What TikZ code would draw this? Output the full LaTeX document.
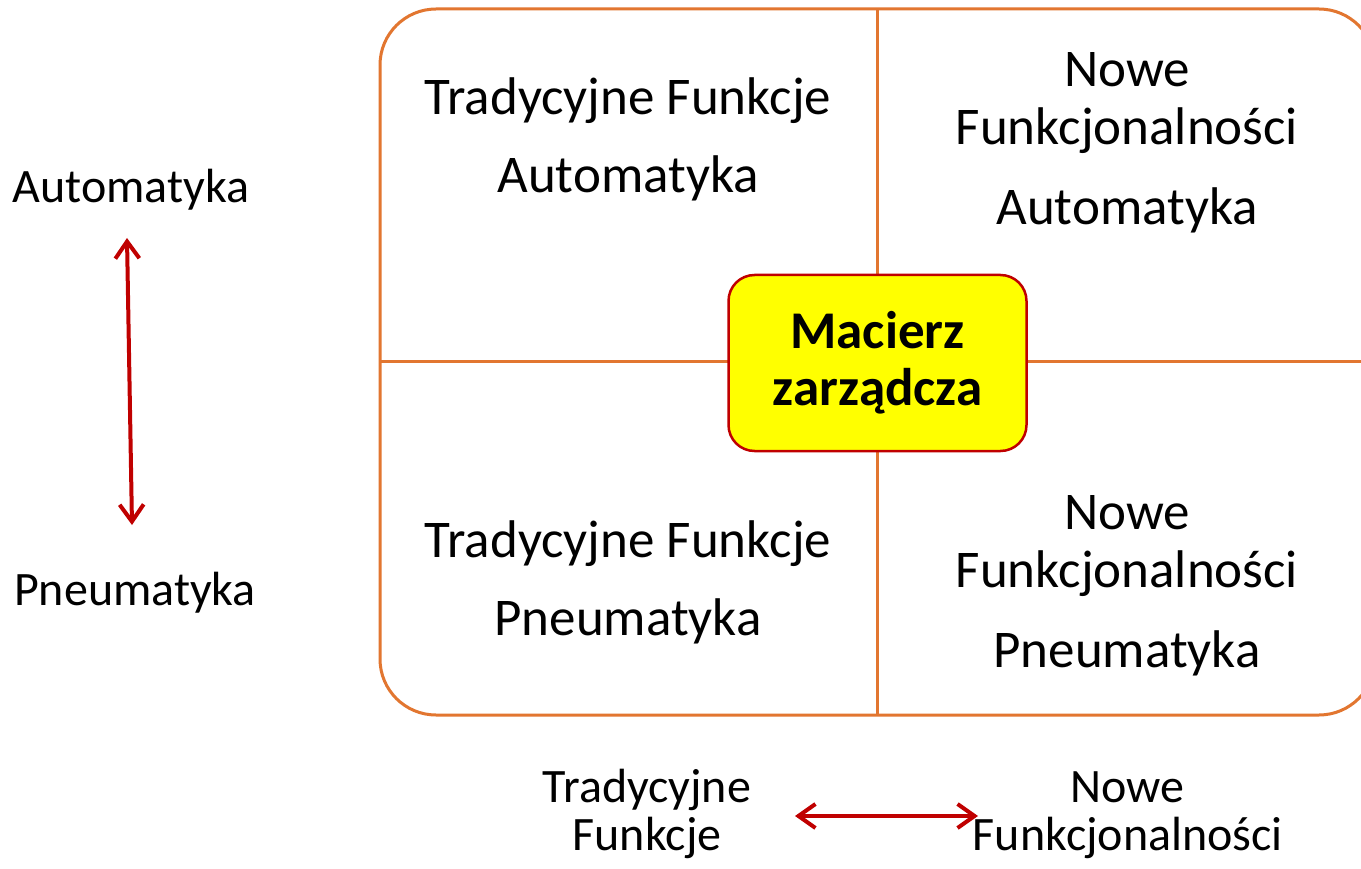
\documentclass[tikz,border=0pt]{standalone}
\usepackage{fontspec}
\setmainfont{Carlito}
\usetikzlibrary{arrows.meta}
\definecolor{frameorange}{RGB}{226,118,48}
\definecolor{arrowred}{RGB}{192,0,0}
\definecolor{boxred}{RGB}{192,0,0}
\definecolor{hubyellow}{RGB}{255,255,0}
\begin{document}
\begin{tikzpicture}[x=1pt,y=-1pt,
  quad/.style={anchor=base,inner sep=0pt,font=\fontsize{53}{58}\selectfont},
  side/.style={anchor=base,inner sep=0pt,font=\fontsize{48}{52}\selectfont},
  axis/.style={draw=arrowred,line width=4pt,
    {Straight Barb[length=17pt,width=24pt,line width=4pt]}-{Straight Barb[length=17pt,width=24pt,line width=4pt]}},
  divider/.style={draw=frameorange,line width=3pt},
  hub/.style={draw=boxred,line width=2.5pt,fill=hubyellow,rounded corners=26pt,
    minimum width=298pt,minimum height=176pt,align=center,inner sep=0pt,
    font=\fontsize{53}{57}\selectfont\bfseries}]
\useasboundingbox (0,0) rectangle (1361,869);
\clip (0,0) rectangle (1361,869);
\fill[white] (0,0) rectangle (1361,869);

% outer frame with the two dividers
\draw[divider,rounded corners=56pt] (380,9) rectangle (1375,715);
\coordinate (vtop) at (877,9);
\coordinate (vbot) at (877,715);
\coordinate (hleft) at (380,361);
\coordinate (hright) at (1375,361);
\draw[divider] (vtop) -- (vbot);
\draw[divider] (hleft) -- (hright);

% central box
\node[hub] (hub) at (877.5,363) {Macierz\\zarządcza};

% quadrant labels
\node[quad] (tl1) at (628,115) {Tradycyjne Funkcje};
\node[quad] (tl2) at (628,193) {Automatyka};
\node[quad] (tr1) at (1127,87) {Nowe};
\node[quad] (tr2) at (1127,145) {Funkcjonalności};
\node[quad] (tr3) at (1127,225) {Automatyka};
\node[quad] (bl1) at (628,557) {Tradycyjne Funkcje};
\node[quad] (bl2) at (628,635) {Pneumatyka};
\node[quad] (br1) at (1127,529) {Nowe};
\node[quad] (br2) at (1127,587) {Funkcjonalności};
\node[quad] (br3) at (1127,667) {Pneumatyka};

% vertical axis
\node[side] (auto) at (131,203) {Automatyka};
\node[side] (pneu) at (135,605) {Pneumatyka};
\coordinate (atop) at (127,238);
\coordinate (abot) at (132,525);
\draw[axis] (atop) -- (abot);

% horizontal axis
\node[side] (trad1) at (647,802) {Tradycyjne};
\node[side] (trad2) at (647,850) {Funkcje};
\node[side] (nowe1) at (1127,802) {Nowe};
\node[side] (nowe2) at (1128,850) {Funkcjonalności};
\coordinate (aleft) at (795,816);
\coordinate (aright) at (978,816);
\draw[axis] (aleft) -- (aright);
\end{tikzpicture}
\end{document}
